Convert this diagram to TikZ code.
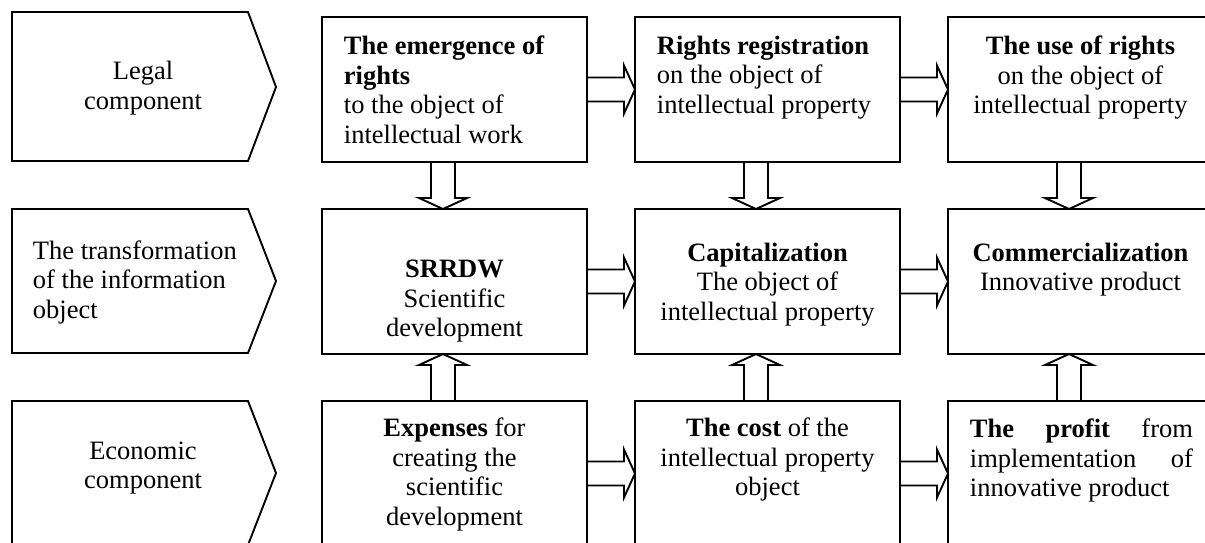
\documentclass[tikz,border=0pt]{standalone}
\usepackage{fontspec}
\setmainfont{Liberation Serif}
\usepackage{tikz}
\usetikzlibrary{calc, positioning}
\tikzstyle{frame} = [draw, rectangle, minimum width=265pt, minimum height=145pt, inner sep=0pt, outer sep=0pt, anchor=north west]
\tikzstyle{blockarrow} = [draw, fill=white, line join=miter]
\tikzstyle{txt} = [inner sep=0pt, font=\fontsize{26.5pt}{29.5pt}\selectfont]
\newcommand{\harrow}[2]{\draw[blockarrow] let \p1 = (#1.east), \p2 = (#2.west) in (\x1,\y1+12pt) -- (\x2-11pt,\y1+12pt) -- (\x2-11pt,\y1+24pt) -- (\x2,\y1) -- (\x2-11pt,\y1-24pt) -- (\x2-11pt,\y1-12pt) -- (\x1,\y1-12pt) -- cycle;}
\newcommand{\varrow}[4]{\draw[blockarrow] let \p1 = (#1), \p2 = (#2) in ({\x1+(#3)-12pt},\y1) -- ({\x1+(#3)-12pt},{\y2+(#4)}) -- ({\x1+(#3)-24pt},{\y2+(#4)}) -- ({\x1+(#3)},\y2) -- ({\x1+(#3)+24pt},{\y2+(#4)}) -- ({\x1+(#3)+12pt},{\y2+(#4)}) -- ({\x1+(#3)+12pt},\y1) -- cycle;}

\begin{document}
\begin{tikzpicture}[x=1pt, y=-1pt, line width=1.9pt]

		\useasboundingbox (0,0) rectangle (1205,542);
		\clip (0,0) rectangle (1205,542);

		% Left components
		\foreach \ya/\yb/\yc in {12/87/161, 209/281/353, 401/473/545}
		{
			\draw (12,\ya) -- (248,\ya) -- (276,\yb) -- (248,\yc) -- (12,\yc) -- cycle;
		}
		\node[txt, align=center] (legal) at (143,88) {Legal\\component};
		\node[txt, align=left, anchor=west] (transf) at (32,282) {The transformation\\of the information\\object};
		\node[txt, align=center] (econ) at (143,468) {Economic\\component};

		% Frames
		\node[frame] (emerg) at (322,17) {};
		\node[frame] (regist) at (635,17) {};
		\node[frame] (use) at (948,17) {};
		\node[frame] (srrdw) at (322,209) {};
		\node[frame] (capit) at (635,209) {};
		\node[frame] (comm) at (948,209) {};
		\node[frame] (expen) at (322,401) {};
		\node[frame] (cost) at (635,401) {};
		\node[frame] (profit) at (948,401) {};

		% Texts
		\node[txt, align=left, anchor=north west] (emergT) at ([xshift=21pt, yshift=-18pt]emerg.north west) {\textbf{The emergence of}\\\textbf{rights}\\to the object of\\intellectual work};
		\node[txt, align=left, anchor=north west] (registT) at ([xshift=21pt, yshift=-18pt]regist.north west) {\textbf{Rights registration}\\on the object of\\intellectual property};
		\node[txt, align=center, anchor=north] (useT) at ([yshift=-18pt]use.north) {\textbf{The use of rights}\\on the object of\\intellectual property};
		\node[txt, align=center, anchor=north] (srrdwT) at ([yshift=-50pt]srrdw.north) {\textbf{SRRDW}\\Scientific\\development};
		\node[txt, align=center, anchor=north] (capitT) at ([yshift=-33pt]capit.north) {\textbf{Capitalization}\\The object of\\intellectual property};
		\node[txt, align=center, anchor=north] (commT) at ([yshift=-33pt]comm.north) {\textbf{Commercialization}\\Innovative product};
		\node[txt, align=center, anchor=north] (expenT) at ([yshift=-16pt]expen.north) {\textbf{Expenses} for\\creating the\\scientific\\development};
		\node[txt, align=center, anchor=north] (costT) at ([yshift=-16pt]cost.north) {\textbf{The cost} of the\\intellectual property\\object};
		\node[txt, align=left, anchor=north west] (profitT) at ([xshift=21pt, yshift=-17pt]profit.north west) {\makebox[223pt][s]{\textbf{The profit} from}\\\makebox[223pt][s]{implementation of}\\innovative product};

		% Block arrows
		\harrow{emerg}{regist}
		\harrow{regist}{use}
		\harrow{srrdw}{capit}
		\harrow{capit}{comm}
		\harrow{expen}{cost}
		\harrow{cost}{profit}
		\varrow{emerg.south}{srrdw.north}{-11.5pt}{11pt}
		\varrow{regist.south}{capit.north}{-11.5pt}{11pt}
		\varrow{use.south}{comm.north}{-11.5pt}{11pt}
		\varrow{expen.north}{srrdw.south}{-11.5pt}{-11pt}
		\varrow{cost.north}{capit.south}{-11.5pt}{-11pt}
		\varrow{profit.north}{comm.south}{-11.5pt}{-11pt}
	\end{tikzpicture}
\end{document}
